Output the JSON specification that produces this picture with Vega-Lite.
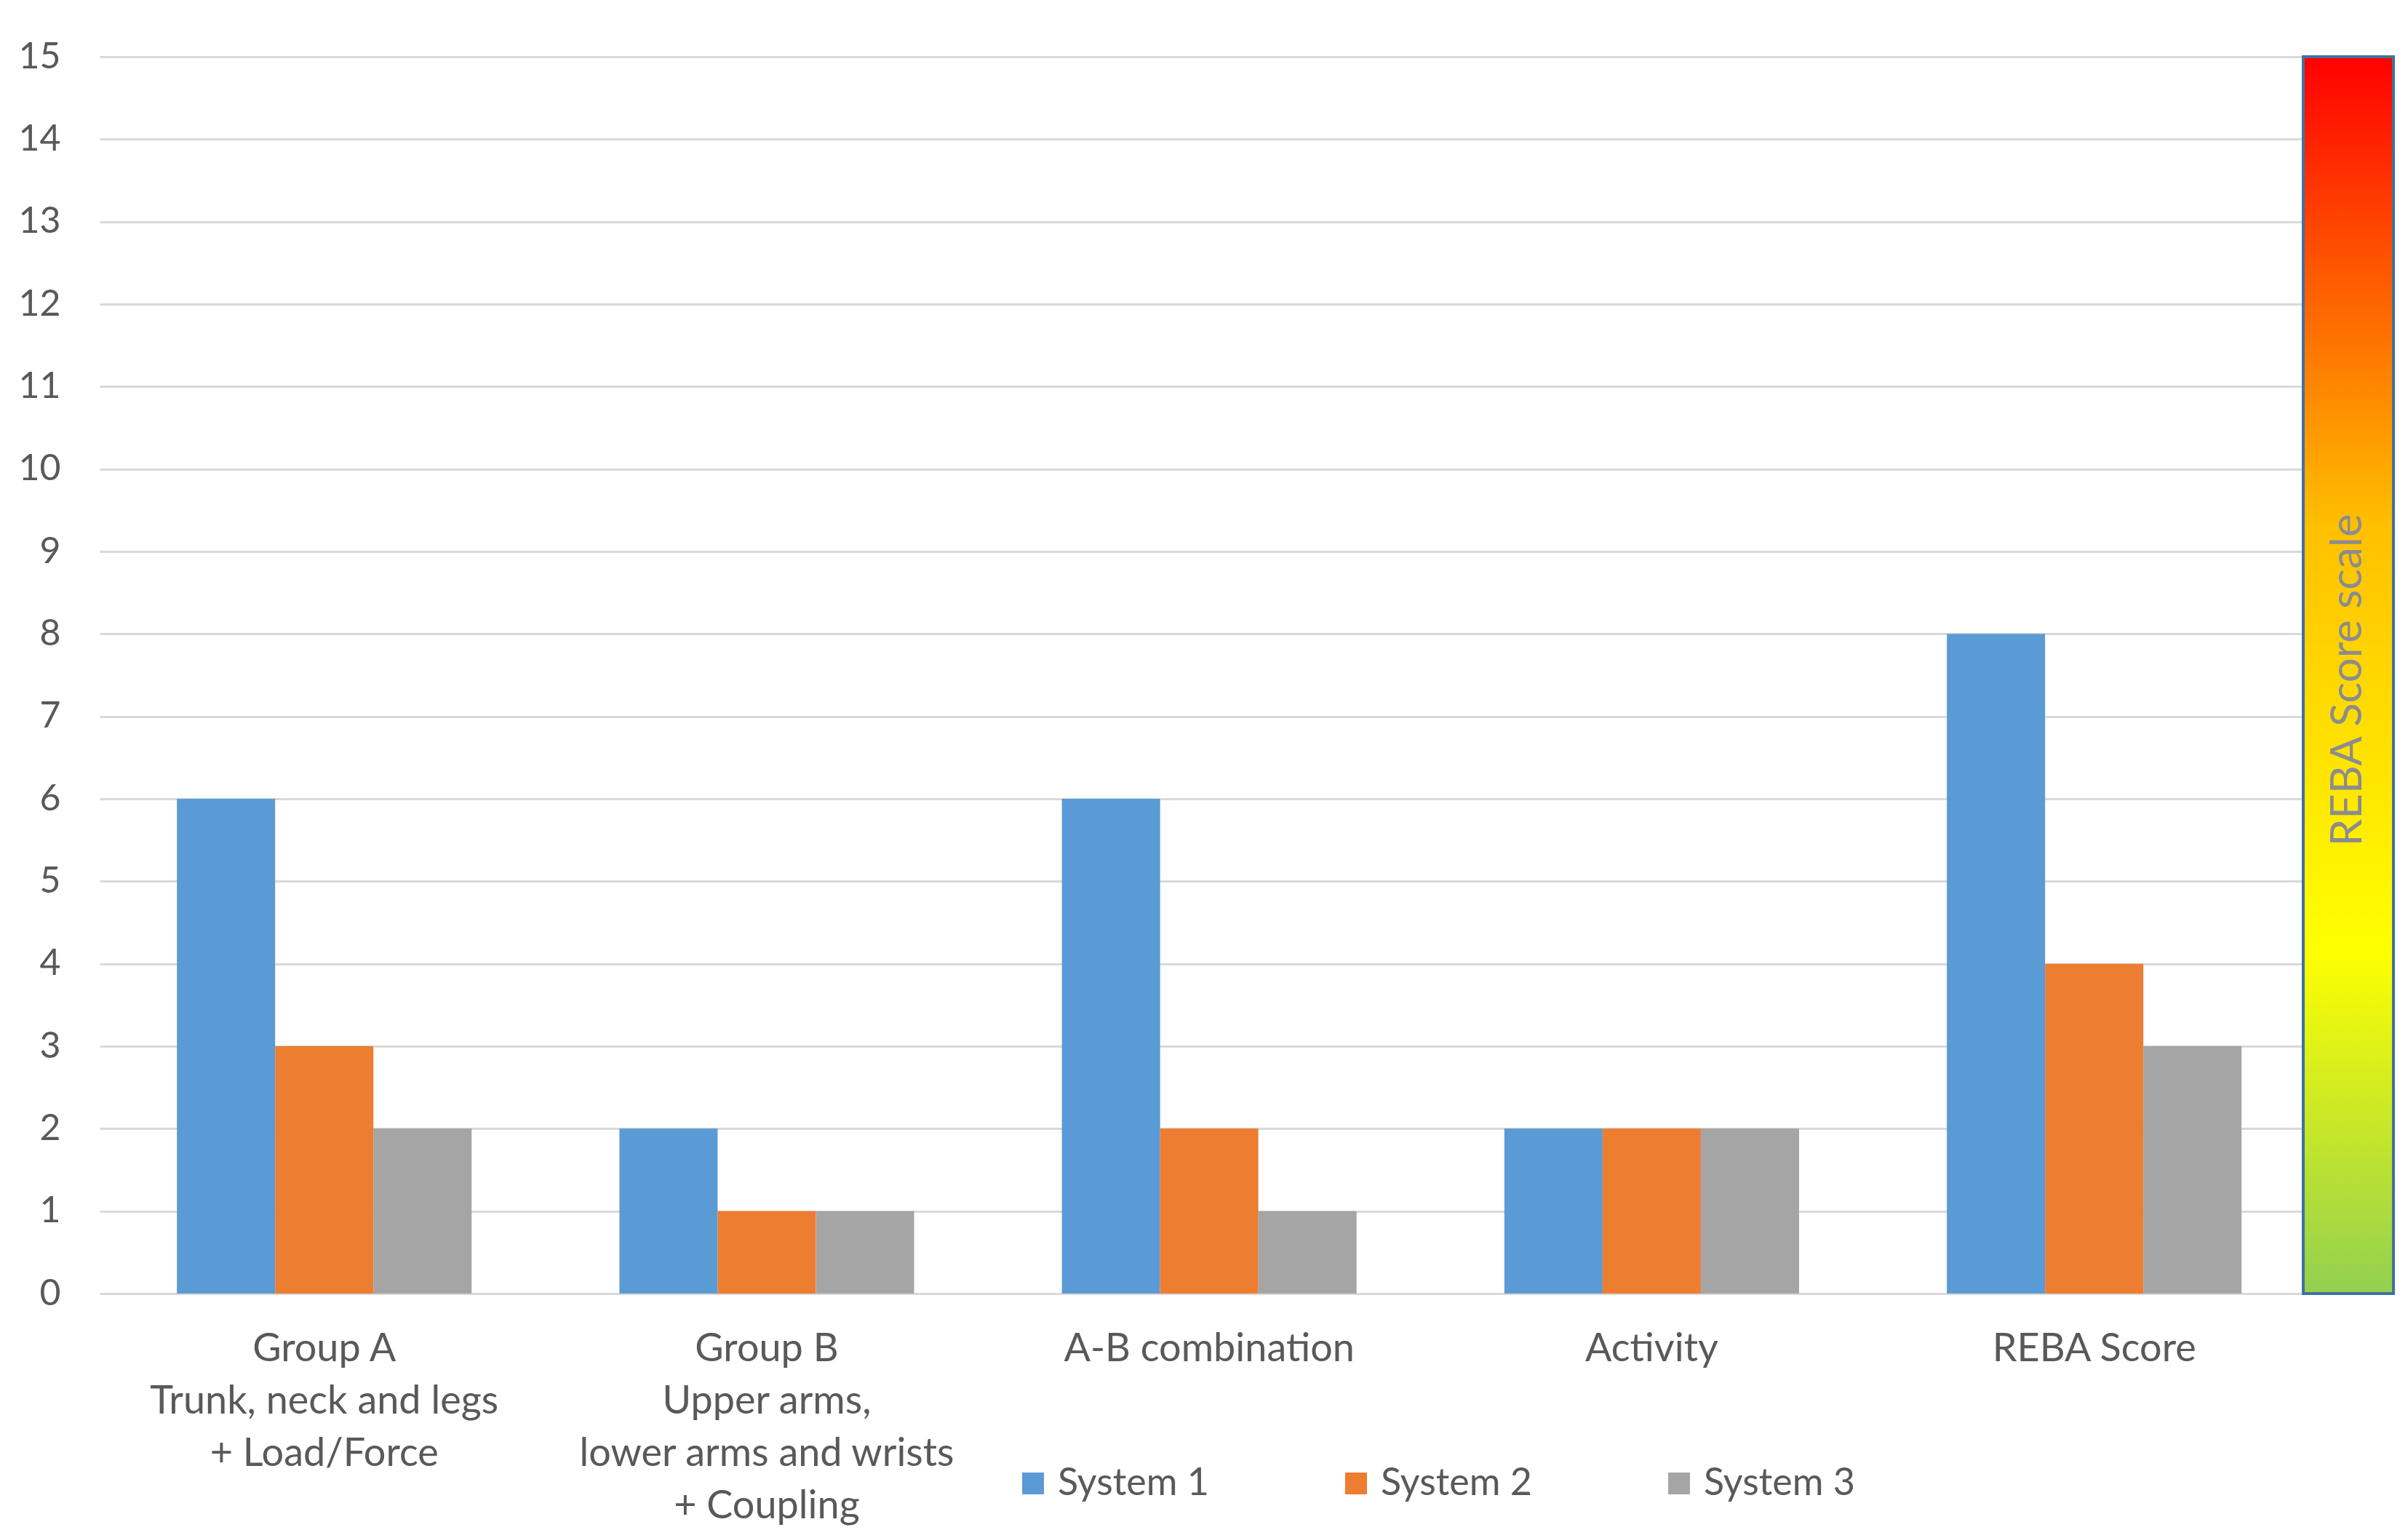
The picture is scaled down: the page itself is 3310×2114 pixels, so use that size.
{
  "$schema": "https://vega.github.io/schema/vega-lite/v6.json",
  "autosize": "none",
  "width": 3153,
  "height": 1700,
  "padding": {"left": 137, "top": 78, "right": 20, "bottom": 336},
  "background": "white",
  "config": {"font": "Lato", "view": {"stroke": null}},
  "layer": [
    {
      "data": {
        "values": [
          {"category": "Group A|Trunk, neck and legs|+ Load/Force", "system": "System 1", "score": 6},
          {"category": "Group A|Trunk, neck and legs|+ Load/Force", "system": "System 2", "score": 3},
          {"category": "Group A|Trunk, neck and legs|+ Load/Force", "system": "System 3", "score": 2},
          {"category": "Group B|Upper arms,|lower arms and wrists|+ Coupling", "system": "System 1", "score": 2},
          {"category": "Group B|Upper arms,|lower arms and wrists|+ Coupling", "system": "System 2", "score": 1},
          {"category": "Group B|Upper arms,|lower arms and wrists|+ Coupling", "system": "System 3", "score": 1},
          {"category": "A-B combination", "system": "System 1", "score": 6},
          {"category": "A-B combination", "system": "System 2", "score": 2},
          {"category": "A-B combination", "system": "System 3", "score": 1},
          {"category": "Activity", "system": "System 1", "score": 2},
          {"category": "Activity", "system": "System 2", "score": 2},
          {"category": "Activity", "system": "System 3", "score": 2},
          {"category": "REBA Score", "system": "System 1", "score": 8},
          {"category": "REBA Score", "system": "System 2", "score": 4},
          {"category": "REBA Score", "system": "System 3", "score": 3}
        ]
      },
      "mark": {"type": "bar"},
      "encoding": {
        "x": {
          "field": "category",
          "type": "nominal",
          "sort": null,
          "scale": {"range": [0, 3029], "paddingInner": 0.334, "paddingOuter": 0.157, "align": 0.556},
          "axis": {
            "title": null,
            "labelExpr": "split(datum.label, '|')",
            "labelAngle": 0,
            "ticks": false,
            "domain": false,
            "labelFontSize": 54,
            "labelColor": "#595959",
            "labelPadding": 49,
            "labelLineHeight": 72,
            "labelBaseline": "top",
            "labelLimit": 0
          }
        },
        "xOffset": {
          "field": "system",
          "type": "nominal",
          "sort": ["System 1", "System 2", "System 3"],
          "scale": {"paddingInner": 0, "paddingOuter": 0}
        },
        "y": {
          "field": "score",
          "type": "quantitative",
          "scale": {"domain": [0, 15], "nice": false},
          "axis": {
            "title": null,
            "values": [0, 1, 2, 3, 4, 5, 6, 7, 8, 9, 10, 11, 12, 13, 14, 15],
            "format": "d",
            "grid": true,
            "gridColor": "#D9D9D9",
            "gridWidth": 3,
            "domain": false,
            "ticks": false,
            "labelFontSize": 50,
            "labelColor": "#595959",
            "labelPadding": 54
          }
        },
        "color": {
          "field": "system",
          "type": "nominal",
          "scale": {"domain": ["System 1", "System 2", "System 3"], "range": ["#5B9BD5", "#ED7D31", "#A5A5A5"]},
          "legend": {
            "title": null,
            "orient": "none",
            "legendX": 1257,
            "legendY": 1935,
            "direction": "horizontal",
            "columns": 3,
            "symbolType": "square",
            "symbolSize": 900,
            "symbolStrokeWidth": 0,
            "labelFontSize": 52,
            "labelColor": "#595959",
            "labelOffset": 8,
            "labelLimit": 0,
            "columnPadding": 176
          }
        }
      }
    },
    {
      "data": {"values": [{"lo": 0, "hi": 15, "label": "REBA Score scale"}]},
      "layer": [
        {
          "mark": {
            "type": "rect",
            "fill": {
              "gradient": "linear",
              "x1": 0, "y1": 1, "x2": 0, "y2": 0,
              "stops": [
                {"offset": 0, "color": "#92D050"},
                {"offset": 0.28, "color": "#FFFF00"},
                {"offset": 0.62, "color": "#FFC000"},
                {"offset": 1, "color": "#FF0000"}
              ]
            },
            "stroke": "#41719C",
            "strokeWidth": 4
          },
          "encoding": {
            "x": {"datum": 0, "type": "quantitative", "scale": {"domain": [0, 1], "range": [3029, 3153]}, "axis": null},
            "x2": {"datum": 1},
            "y": {"field": "lo", "type": "quantitative"},
            "y2": {"field": "hi"}
          }
        },
        {
          "mark": {"type": "text", "angle": 270, "fontSize": 60, "color": "#8C8C8C"},
          "encoding": {
            "x": {"datum": 0.5, "type": "quantitative"},
            "y": {"datum": 7.44, "type": "quantitative"},
            "text": {"field": "label"}
          }
        }
      ]
    }
  ],
  "resolve": {"scale": {"x": "independent"}}
}
